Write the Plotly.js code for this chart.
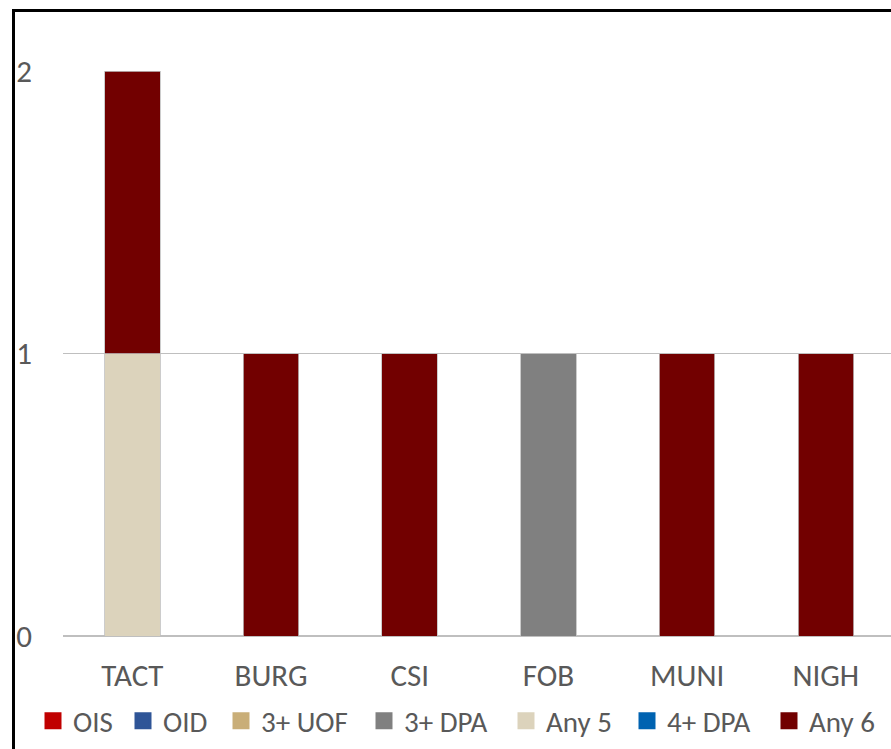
<!DOCTYPE html>
<html>
<head>
<meta charset="utf-8">
<script src="https://cdn.plot.ly/plotly-3.0.1.min.js"></script>
<style>
html,body{margin:0;padding:0;background:#fff;overflow:hidden;}
#chart{position:absolute;left:0;top:0;width:891px;height:749px;}
#frame{position:absolute;left:12px;top:9px;width:1000px;height:1000px;border:3px solid #000;pointer-events:none;}
</style>
</head>
<body>
<div id="chart"></div>
<div id="frame"></div>
<script>
const categories = ["TACT", "BURG", "CSI", "FOB", "MUNI", "NIGH"];
const seriesNames = ["OIS", "OID", "3+ UOF", "3+ DPA", "Any 5", "4+ DPA", "Any 6"];
const OIS    = [0, 0, 0, 0, 0, 0];
const OID    = [0, 0, 0, 0, 0, 0];
const UOF3   = [0, 0, 0, 0, 0, 0];
const DPA3   = [0, 0, 0, 1, 0, 0];
const Any5   = [1, 0, 0, 0, 0, 0];
const DPA4   = [0, 0, 0, 0, 0, 0];
const Any6   = [1, 1, 1, 0, 1, 1];
const yTicks = [0, 1, 2];

const seriesValues = [OIS, OID, UOF3, DPA3, Any5, DPA4, Any6];
const colors = ["#C00000", "#2F5597", "#C9AE78", "#808080", "#DCD3BC", "#0063B1", "#720000"];
// legend entry text start (px) for each series
const legendTextX = [73, 163, 261, 404, 546, 667, 809];

const font = "Calibri, Carlito, Lato, 'Liberation Sans', sans-serif";

const traces = [];
seriesNames.forEach((name, i) => {
  traces.push({
    type: "bar",
    name: name,
    x: categories,
    y: seriesValues[i],
    marker: {color: colors[i], line: {color: "#BFBFBF", width: 0.8}},
    width: 0.4,
    showlegend: false
  });
});
seriesNames.forEach((name, i) => {
  traces.push({
    type: "scatter",
    mode: "markers",
    name: name,
    x: [categories[0]],
    y: [null],
    marker: {symbol: "square", size: 14, color: colors[i], line: {width: 3, color: colors[i]}},
    showlegend: true,
    legend: i === 0 ? "legend" : "legend" + (i + 1)
  });
});

const layout = {
  width: 891,
  height: 749,
  margin: {l: 63, r: 0, t: 71, b: 113, pad: 0},
  barmode: "stack",
  paper_bgcolor: "#fff",
  plot_bgcolor: "#fff",
  showlegend: true,
  xaxis: {
    type: "category",
    range: [-0.5, 5.47],
    showgrid: false,
    showline: false,
    zeroline: false,
    ticks: "",
    tickfont: {family: font, size: 31, color: "#595959"},
    ticklabelstandoff: 18
  },
  yaxis: {
    range: [0, 2],
    tickvals: yTicks,
    ticktext: yTicks.map(String),
    showgrid: true,
    gridcolor: "#BFBFBF",
    gridwidth: 1.5,
    zeroline: true,
    zerolinecolor: "#BFBFBF",
    zerolinewidth: 1.5,
    showline: false,
    ticks: "",
    tickfont: {family: font, size: 31, color: "#595959"},
    ticklabelstandoff: 30
  }
};

seriesNames.forEach((name, i) => {
  const key = i === 0 ? "legend" : "legend" + (i + 1);
  layout[key] = {
    orientation: "h",
    xref: "container", yref: "container",
    x: (legendTextX[i] - 40) / 891, xanchor: "left",
    y: 28 / 749, yanchor: "middle",
    font: {family: font, size: 29, color: "#595959"},
    bgcolor: "rgba(0,0,0,0)",
    borderwidth: 0,
    itemclick: false
  };
});

Plotly.newPlot("chart", traces, layout, {displayModeBar: false, staticPlot: true});
</script>
</body>
</html>
